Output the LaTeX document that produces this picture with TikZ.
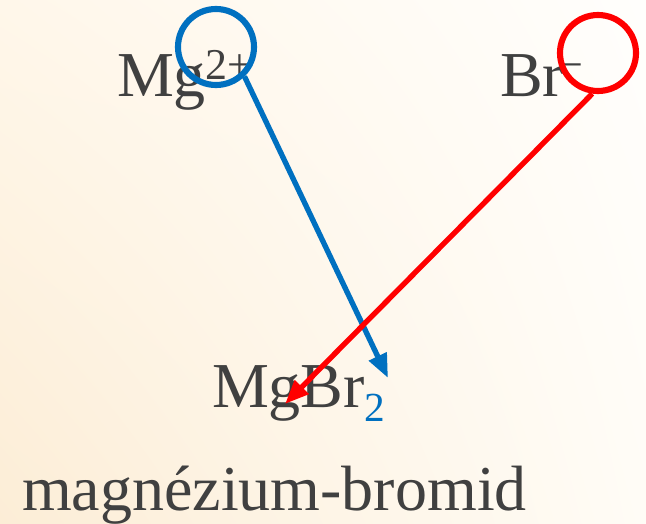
\documentclass[tikz,border=0pt]{standalone}
\usepackage{fontspec}
\setmainfont{Liberation Serif}
\usetikzlibrary{arrows.meta,shadings}
\definecolor{txt}{RGB}{64,64,64}
\definecolor{mblue}{RGB}{0,112,192}
\definecolor{mred}{RGB}{255,0,0}
\definecolor{bgul}{RGB}{255,247,234}
\definecolor{bgll}{RGB}{252,237,214}
\definecolor{bgur}{RGB}{255,254,252}
\definecolor{bglr}{RGB}{255,252,246}
\tikzset{
  lbl/.style={anchor=base west, inner sep=0pt, outer sep=0pt, text=txt, font=\fontsize{48}{52}\selectfont},
  ring/.style={circle, draw=#1, line width=4.6pt, minimum size=57pt, inner sep=0pt},
  ionarrow/.style={draw=#1, line width=4pt, -{Triangle[length=18pt,width=14pt]}},
}
\newcommand{\supx}[1]{\raisebox{13pt}{\fontsize{33}{36}\selectfont #1}}
\begin{document}
\begin{tikzpicture}[x=0.75pt,y=-0.75pt]
  \useasboundingbox (0,0) rectangle (646,524);
  \shade[upper left=bgul, lower left=bgll, upper right=bgur, lower right=bglr] (0,0) rectangle (646,524);
  % labels
  \node[lbl] (mg) at (117,97) {Mg\supx{2+}};
  \node[lbl] (br) at (500,97) {Br\kern-4pt\supx{\char"2212}};
  \node[lbl] (mgbr) at (212,407) {MgBr\raisebox{-11pt}{\fontsize{31}{33}\selectfont\color{mblue}2}};
  \node[lbl] (name) at (22,510) {magnézium-bromid};
  % circles
  \node[ring=mblue] (c1) at (216,47) {};
  \node[ring=mred] (c2) at (598,53) {};
  % arrow ends
  \coordinate (t1) at (388,378);
  \coordinate (t2) at (285,404);
  \draw[ionarrow=mblue] (c1.-46) -- (t1);
  \draw[ionarrow=mred] (c2.-98) -- (t2);
\end{tikzpicture}
\end{document}
